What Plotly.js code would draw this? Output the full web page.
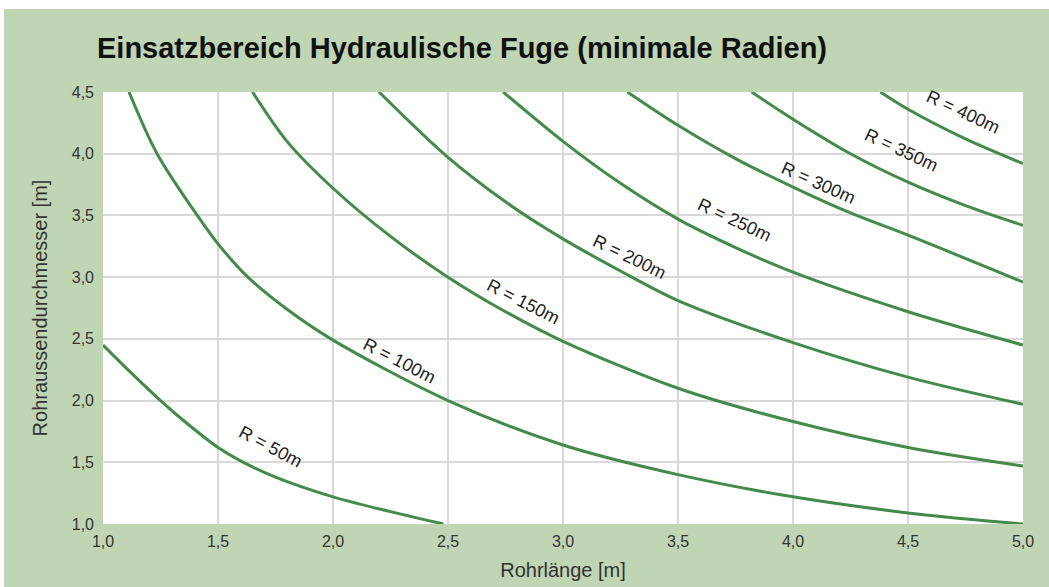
<!DOCTYPE html>
<html>
<head>
<meta charset="utf-8">
<script src="https://cdn.plot.ly/plotly-3.0.1.min.js"></script>
<style>
  html, body { margin: 0; padding: 0; background: #ffffff; width: 1049px; height: 587px; overflow: hidden; }
  #chart { position: absolute; left: 4px; top: 9px; width: 1045px; height: 578px; }
</style>
</head>
<body>
<div id="chart"></div>
<script>
// Rohrlänge [m] (x) and Rohraussendurchmesser [m] (y) per radius curve
const r50L  = [1.0, 1.125, 1.25, 1.375, 1.5, 1.6, 1.75, 2.0, 2.25, 2.48];
const r50D  = [2.45, 2.22, 2.0, 1.8, 1.62, 1.51, 1.38, 1.22, 1.1, 1.0];
const r100L = [1.113, 1.235, 1.41, 1.5, 1.63, 1.8, 2.0, 2.5, 3.0, 3.5, 4.0, 4.5, 5.0];
const r100D = [4.5, 4.0, 3.5, 3.27, 3.0, 2.74, 2.49, 2.0, 1.64, 1.40, 1.22, 1.09, 1.0];
const r150L = [1.65, 1.8, 2.0, 2.25, 2.5, 2.75, 3.0, 3.5, 4.0, 4.5, 5.0];
const r150D = [4.5, 4.1, 3.72, 3.33, 3.0, 2.72, 2.48, 2.10, 1.83, 1.62, 1.47];
const r200L = [2.2, 2.5, 2.75, 3.0, 3.25, 3.5, 4.0, 4.5, 5.0];
const r200D = [4.5, 3.97, 3.61, 3.31, 3.05, 2.81, 2.47, 2.19, 1.97];
const r250L = [2.74, 3.0, 3.25, 3.5, 3.75, 4.0, 4.5, 5.0];
const r250D = [4.5, 4.10, 3.76, 3.47, 3.24, 3.04, 2.72, 2.45];
const r300L = [3.28, 3.5, 3.75, 4.0, 4.25, 4.5, 5.0];
const r300D = [4.5, 4.23, 3.96, 3.73, 3.52, 3.34, 2.96];
const r350L = [3.82, 4.0, 4.25, 4.5, 4.75, 5.0];
const r350D = [4.5, 4.28, 4.0, 3.77, 3.58, 3.42];
const r400L = [4.38, 4.5, 4.75, 5.0];
const r400D = [4.5, 4.36, 4.12, 3.92];

// curve labels
const labelText  = ['R = 50m', 'R = 100m', 'R = 150m', 'R = 200m', 'R = 250m', 'R = 300m', 'R = 350m', 'R = 400m'];
const labelL     = [1.73, 2.29, 2.83, 3.29, 3.745, 4.11, 4.47, 4.74];
const labelD     = [1.62, 2.32, 2.80, 3.16, 3.46, 3.76, 4.03, 4.34];
const labelAngle = [28, 27, 27, 26, 25, 24, 25, 25];

const xTicks = [1.0, 1.5, 2.0, 2.5, 3.0, 3.5, 4.0, 4.5, 5.0];
const yTicks = [1.0, 1.5, 2.0, 2.5, 3.0, 3.5, 4.0, 4.5];

const curves = [
  [r50L, r50D], [r100L, r100D], [r150L, r150D], [r200L, r200D],
  [r250L, r250D], [r300L, r300D], [r350L, r350D], [r400L, r400D]
];

const FONT = 'Liberation Sans, Arial, sans-serif';
const lineColor = '#448a4a';
const traces = curves.map((c, i) => ({
  type: 'scatter', mode: 'lines', x: c[0], y: c[1],
  name: labelText[i],
  line: { color: lineColor, width: 3, shape: 'spline', smoothing: 0.9 },
  hoverinfo: 'x+y+name'
}));

const annotations = labelText.map((t, i) => ({
  x: labelL[i], y: labelD[i], xref: 'x', yref: 'y',
  text: t, showarrow: false, textangle: labelAngle[i],
  font: { family: FONT, size: 18, color: '#222222' }
}));

const layout = {
  width: 1045, height: 578,
  paper_bgcolor: '#bfd5b4',
  plot_bgcolor: '#ffffff',
  margin: { l: 99, r: 26, t: 83, b: 63 },
  separators: ',.',
  showlegend: false,
  title: {
    text: 'Einsatzbereich Hydraulische Fuge (minimale Radien)',
    font: { family: FONT, size: 29, color: '#111111', weight: 'bold' },
    xref: 'container', yref: 'container',
    x: 93 / 1045, xanchor: 'left',
    y: 1 - 39 / 578, yanchor: 'middle'
  },
  xaxis: {
    range: [1, 5], tickvals: xTicks, tickformat: '.1f',
    showgrid: true, gridcolor: '#d9d9d9', gridwidth: 2,
    zeroline: false, showline: false, ticks: '',
    ticklabelstandoff: 6,
    tickfont: { family: FONT, size: 16, color: '#333333' },
    title: { text: 'Rohrlänge [m]', standoff: 13,
      font: { family: FONT, size: 20, color: '#333333' } },
    fixedrange: true
  },
  yaxis: {
    range: [1, 4.5], tickvals: yTicks, tickformat: '.1f',
    showgrid: true, gridcolor: '#d9d9d9', gridwidth: 2,
    zeroline: false, showline: false, ticks: '',
    ticklabelstandoff: 8,
    tickfont: { family: FONT, size: 16, color: '#333333' },
    title: { text: 'Rohraussendurchmesser [m]', standoff: 18,
      font: { family: FONT, size: 20, color: '#333333' } },
    fixedrange: true
  },
  annotations: annotations
};

Plotly.newPlot('chart', traces, layout, { displayModeBar: false, staticPlot: true });
</script>
</body>
</html>
